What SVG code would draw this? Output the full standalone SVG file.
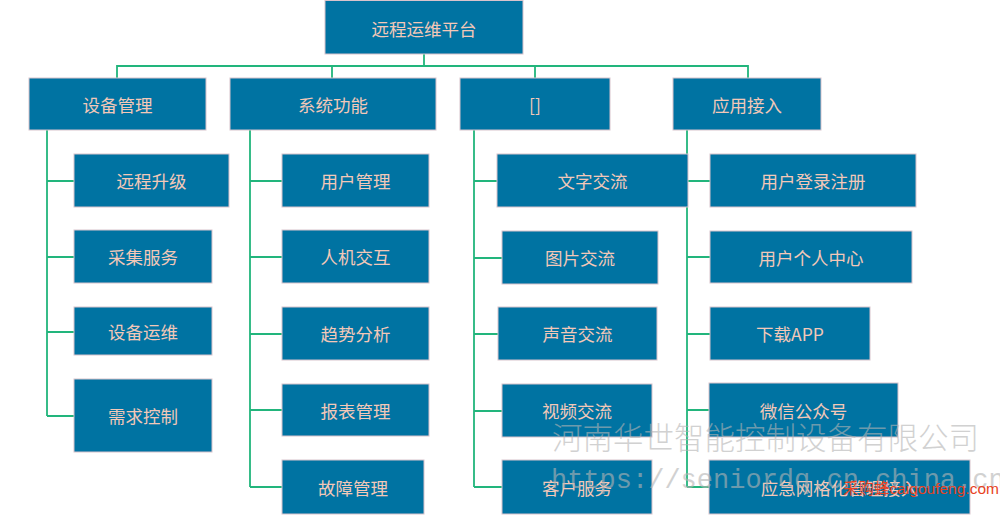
<svg xmlns="http://www.w3.org/2000/svg" width="1000" height="515" viewBox="0 0 1000 515">
<style>
.box rect{fill:#0073A2;stroke:#D8C3CC;stroke-width:1}
.box text{fill:#F3C8B8;font-family:"Noto Sans CJK SC","Liberation Sans",sans-serif;font-size:17.5px;text-anchor:middle;dominant-baseline:central}
#connectors path{fill:none;stroke:#22B57C;stroke-width:1.8}
.wm{fill:#b4b4b4;opacity:0.6}
</style>
<rect width="1000" height="515" fill="#ffffff"/>
<g id="connectors">
<path d="M424,54V66M117,78V66H748V78M332,66V78M535,66V78"/>
<path d="M47,130V416M47,181H74M47,257H74M47,332H74M47,416H74"/>
<path d="M250,130V487M250,181H282M250,257H282M250,334H282M250,410H282M250,487H282"/>
<path d="M474,130V487M474,181H497M474,258H502M474,334H498M474,411H502M474,487H502"/>
<path d="M687,130V487M687,181H710M687,257H710M687,334H710M687,410H709M687,487H709"/>
</g>
<g id="root" class="box"><rect x="325" y="0.5" width="198" height="53.5"/><text x="424" y="28">远程运维平台</text></g>
<g id="n1" class="box"><rect x="29" y="78" width="177" height="52"/><text x="117.5" y="104">设备管理</text></g>
<g id="n2" class="box"><rect x="230" y="78" width="206" height="52"/><text x="333" y="104">系统功能</text></g>
<g id="n3" class="box"><rect x="460" y="78" width="150" height="52"/><text x="535" y="104">[]</text></g>
<g id="n4" class="box"><rect x="673" y="78" width="148" height="52"/><text x="747" y="104">应用接入</text></g>
<g id="n1a" class="box"><rect x="74" y="154" width="155" height="53"/><text x="151.5" y="180.5">远程升级</text></g>
<g id="n1b" class="box"><rect x="74" y="230" width="138" height="53"/><text x="143" y="256.5">采集服务</text></g>
<g id="n1c" class="box"><rect x="74" y="307" width="138" height="48"/><text x="143" y="331">设备运维</text></g>
<g id="n1d" class="box"><rect x="74" y="379" width="138" height="73"/><text x="143" y="415.5">需求控制</text></g>
<g id="n2a" class="box"><rect x="282" y="154" width="147" height="53"/><text x="355.5" y="180.5">用户管理</text></g>
<g id="n2b" class="box"><rect x="282" y="230" width="147" height="53"/><text x="355.5" y="256.5">人机交互</text></g>
<g id="n2c" class="box"><rect x="282" y="307" width="147" height="53"/><text x="355.5" y="333.5">趋势分析</text></g>
<g id="n2d" class="box"><rect x="282" y="384" width="147" height="52"/><text x="355.5" y="410">报表管理</text></g>
<g id="n2e" class="box"><rect x="282" y="460" width="142" height="54"/><text x="353" y="487">故障管理</text></g>
<g id="n3a" class="box"><rect x="497" y="154" width="191" height="53"/><text x="592.5" y="180.5">文字交流</text></g>
<g id="n3b" class="box"><rect x="502" y="231" width="156" height="53"/><text x="580" y="257.5">图片交流</text></g>
<g id="n3c" class="box"><rect x="498" y="307" width="159" height="53"/><text x="577.5" y="333.5">声音交流</text></g>
<g id="n3d" class="box"><rect x="502" y="384" width="150" height="53"/><text x="577" y="410.5">视频交流</text></g>
<g id="n3e" class="box"><rect x="502" y="460" width="150" height="54"/><text x="577" y="487">客户服务</text></g>
<g id="n4a" class="box"><rect x="710" y="154" width="206" height="53"/><text x="813" y="180.5">用户登录注册</text></g>
<g id="n4b" class="box"><rect x="710" y="231" width="202" height="52"/><text x="811" y="257">用户个人中心</text></g>
<g id="n4c" class="box"><rect x="710" y="307" width="160" height="53"/><text x="790" y="333.5">下载APP</text></g>
<g id="n4d" class="box"><rect x="709" y="383" width="189" height="54"/><text x="803.5" y="410">微信公众号</text></g>
<g id="n4e" class="box"><rect x="709" y="460" width="261" height="54"/><text x="839.5" y="487">应急网格化管理接入</text></g>
<text class="wm" x="552" y="449" font-family="Noto Sans CJK SC,sans-serif" font-size="30.5" font-weight="300">河南华世智能控制设备有限公司</text>
<text class="wm" x="551" y="488" font-family="Liberation Mono,monospace" font-size="27">https://seniordq.cn.china.cn</text>
<text x="843" y="494" fill="#E8421E" font-family="Liberation Sans,Noto Sans CJK SC,sans-serif" font-size="15.5">采购蜂caigoufeng.com</text>
</svg>
